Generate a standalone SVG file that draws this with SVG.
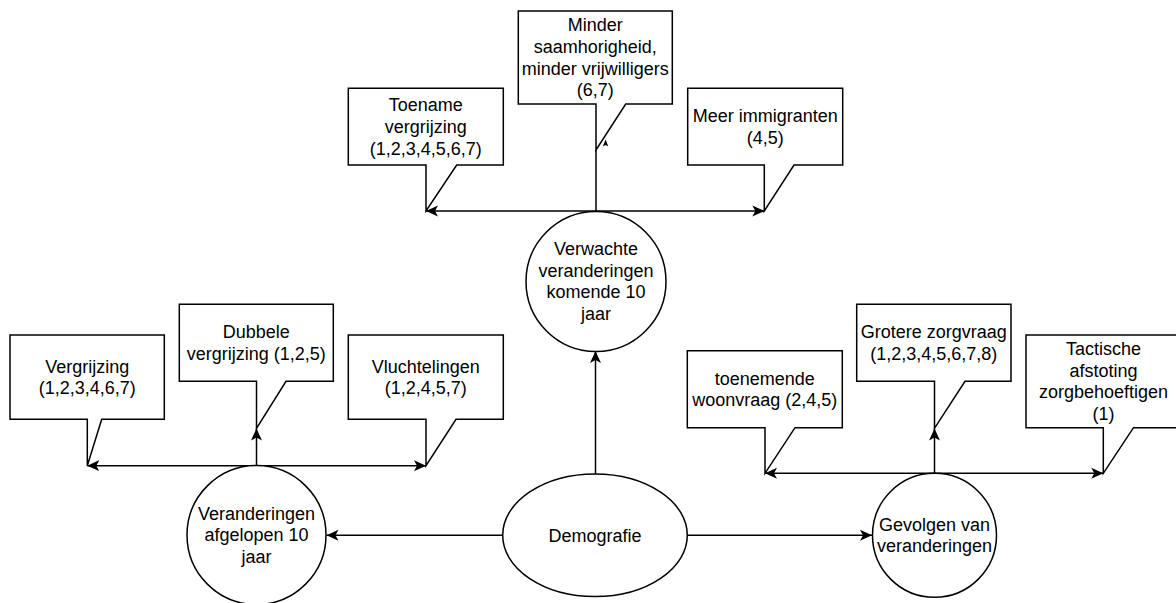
<svg xmlns="http://www.w3.org/2000/svg" width="1176" height="603" viewBox="0 0 1176 603">
  <style>
    .shape { fill: #fff; stroke: #000; stroke-width: 1.5; }
    .wire { fill: none; stroke: #000; stroke-width: 1.5; }
    .label { font-family: "Liberation Sans", Arial, sans-serif; font-size: 18px; fill: #000; text-anchor: middle; }
  </style>
  <defs>
    <marker id="arrow" viewBox="0 -6 13 12" refX="12" refY="0" markerWidth="13" markerHeight="12" markerUnits="userSpaceOnUse" orient="auto-start-reverse">
      <path d="M0,-5.5 L12,0 L0,5.5 L3,0 Z" fill="#000"/>
    </marker>
  </defs>

  <rect width="1176" height="603" fill="#fff"/>

  <!-- connectors -->
  <g id="connectors">
    <!-- Demografie to the three topic circles -->
    <path class="wire" d="M502.7,535.3 H326.5" marker-end="url(#arrow)"/>
    <path class="wire" d="M687.3,535.3 H872" marker-end="url(#arrow)"/>
    <path class="wire" d="M595.5,474 V351" marker-end="url(#arrow)"/>

    <!-- past changes branch -->
    <path class="wire" d="M87.3,465.7 H426" marker-start="url(#arrow)" marker-end="url(#arrow)"/>
    <path class="wire" d="M256.5,465.7 V428.5" marker-end="url(#arrow)"/>

    <!-- expected changes branch -->
    <path class="wire" d="M426,211 H764.3" marker-start="url(#arrow)" marker-end="url(#arrow)"/>
    <path class="wire" d="M596,211 V150"/>
    <polygon points="605.6,139.5 608.3,146.6 605.6,145 602.8,146.6" fill="#000"/>

    <!-- consequences branch -->
    <path class="wire" d="M765,473.3 H1103.3" marker-start="url(#arrow)" marker-end="url(#arrow)"/>
    <path class="wire" d="M934.5,473.3 V428.5" marker-end="url(#arrow)"/>
  </g>

  <!-- central node -->
  <g id="demografie">
    <ellipse class="shape" cx="595" cy="535.3" rx="92.3" ry="61.3"/>
    <text class="label" x="595" y="541.6">Demografie</text>
  </g>

  <!-- topic circles -->
  <g id="veranderingen-afgelopen">
    <circle class="shape" cx="256.5" cy="535" r="69.5"/>
    <text class="label" x="256.5" y="519.7">Veranderingen</text>
    <text class="label" x="256.5" y="541.3">afgelopen 10</text>
    <text class="label" x="256.5" y="562.9">jaar</text>
  </g>

  <g id="verwachte-veranderingen">
    <circle class="shape" cx="596" cy="281.5" r="70"/>
    <text class="label" x="596" y="254.9">Verwachte</text>
    <text class="label" x="596" y="276.5">veranderingen</text>
    <text class="label" x="596" y="298.1">komende 10</text>
    <text class="label" x="596" y="319.7">jaar</text>
  </g>

  <g id="gevolgen">
    <circle class="shape" cx="934.5" cy="535.3" r="62"/>
    <text class="label" x="934.5" y="530.8">Gevolgen van</text>
    <text class="label" x="934.5" y="552.4">veranderingen</text>
  </g>

  <!-- callouts: expected changes -->
  <g id="toename-vergrijzing">
    <path class="shape" d="M348.3,88.3 H503.3 V165 H456.7 L426,211 V165 H348.3 Z"/>
    <text class="label" x="425.8" y="111.4">Toename</text>
    <text class="label" x="425.8" y="133">vergrijzing</text>
    <text class="label" x="425.8" y="154.6">(1,2,3,4,5,6,7)</text>
  </g>

  <g id="minder-saamhorigheid">
    <path class="shape" d="M518.3,11 H672.3 V104 H625.7 L596,150 V104 H518.3 Z"/>
    <text class="label" x="595.3" y="31.4">Minder</text>
    <text class="label" x="595.3" y="53">saamhorigheid,</text>
    <text class="label" x="595.3" y="74.6">minder vrijwilligers</text>
    <text class="label" x="595.3" y="96.2">(6,7)</text>
  </g>

  <g id="meer-immigranten">
    <path class="shape" d="M687.7,88.3 H842.7 V165 H794 L764.3,211 V165 H687.7 Z"/>
    <text class="label" x="765.2" y="122.2">Meer immigranten</text>
    <text class="label" x="765.2" y="143.8">(4,5)</text>
  </g>

  <!-- callouts: past changes -->
  <g id="vergrijzing">
    <path class="shape" d="M10,335 H164.3 V419.3 H101.7 L87.3,465.7 V419.3 H10 Z"/>
    <text class="label" x="87.2" y="372.5">Vergrijzing</text>
    <text class="label" x="87.2" y="394.1">(1,2,3,4,6,7)</text>
  </g>

  <g id="dubbele-vergrijzing">
    <path class="shape" d="M179.3,304.3 H333.3 V381.3 H286 L256.5,428.3 V381.3 H179.3 Z"/>
    <text class="label" x="256.3" y="338.3">Dubbele</text>
    <text class="label" x="256.3" y="359.9">vergrijzing (1,2,5)</text>
  </g>

  <g id="vluchtelingen">
    <path class="shape" d="M348.3,335 H503.3 V419.3 H456 L426,465.7 V419.3 H348.3 Z"/>
    <text class="label" x="425.8" y="372.5">Vluchtelingen</text>
    <text class="label" x="425.8" y="394.1">(1,2,4,5,7)</text>
  </g>

  <!-- callouts: consequences -->
  <g id="toenemende-woonvraag">
    <path class="shape" d="M687.3,350.7 H842.3 V427.7 H795 L765,473.3 V427.7 H687.3 Z"/>
    <text class="label" x="764.8" y="384.7">toenemende</text>
    <text class="label" x="764.8" y="406.3">woonvraag (2,4,5)</text>
  </g>

  <g id="grotere-zorgvraag">
    <path class="shape" d="M856.7,304.3 H1011 V381.3 H965 L934.5,428.3 V381.3 H856.7 Z"/>
    <text class="label" x="933.8" y="338.3">Grotere zorgvraag</text>
    <text class="label" x="933.8" y="359.9">(1,2,3,4,5,6,7,8)</text>
  </g>

  <g id="tactische-afstoting">
    <path class="shape" d="M1026,335 H1181 V427.7 H1133.5 L1103.3,473.3 V427.7 H1026 Z"/>
    <text class="label" x="1103.5" y="355.2">Tactische</text>
    <text class="label" x="1103.5" y="376.8">afstoting</text>
    <text class="label" x="1103.5" y="398.4">zorgbehoeftigen</text>
    <text class="label" x="1103.5" y="420">(1)</text>
  </g>
</svg>
